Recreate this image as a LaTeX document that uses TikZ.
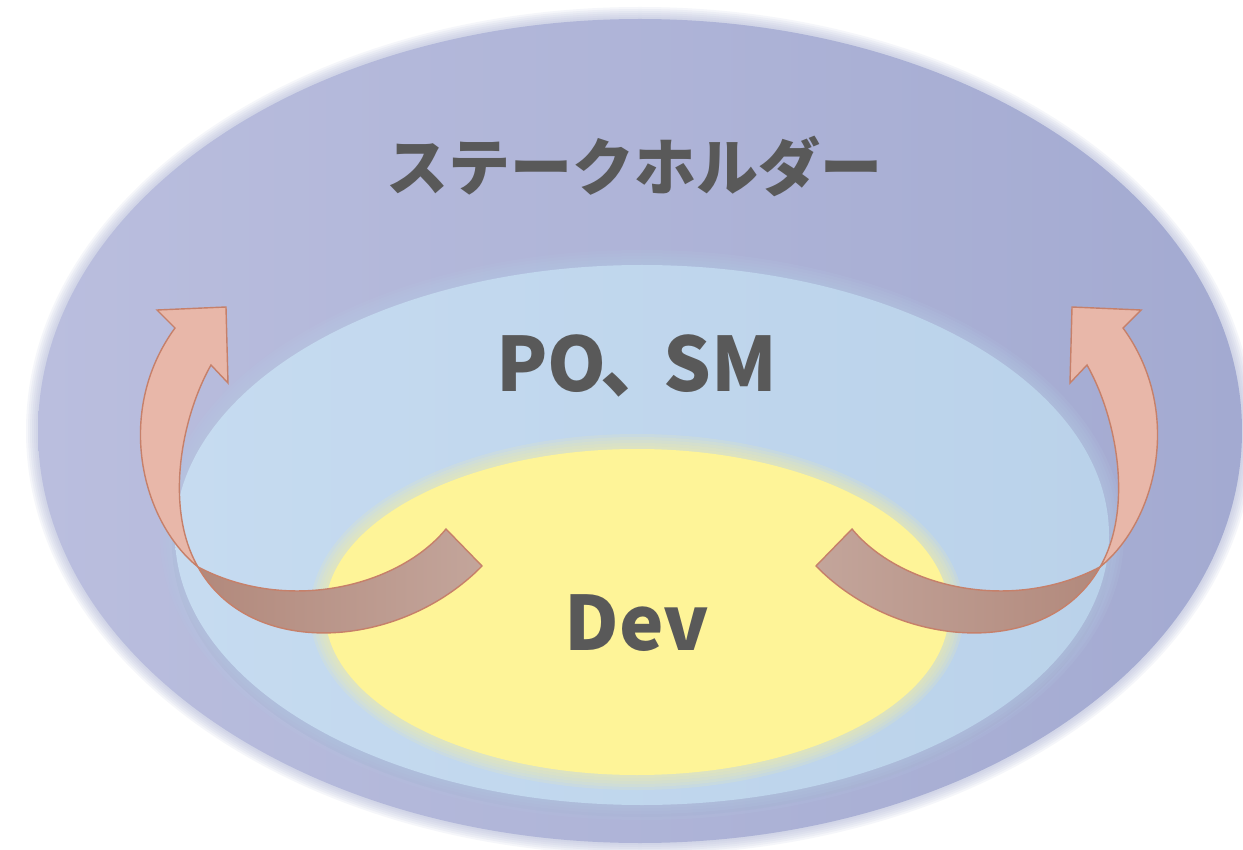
\documentclass[tikz,border=0pt]{standalone}
\usepackage{fontspec}
\usepackage{xcolor}
\usepackage{tikz}
\usetikzlibrary{positioning}
\newfontfamily\jpfont{Noto Sans CJK JP}
\definecolor{SHOuterLight}{RGB}{186, 190, 222}
\definecolor{SHOuterDark}{RGB}{163, 170, 209}
\definecolor{SHMiddleLight}{RGB}{198, 219, 240}
\definecolor{SHMiddle}{RGB}{186, 210, 234}
\definecolor{SHInner}{RGB}{254, 244, 152}
\definecolor{SHText}{RGB}{89, 89, 89}
\definecolor{SHArrowPink}{RGB}{232, 183, 169}
\definecolor{SHArrowDark}{RGB}{178, 137, 124}
\definecolor{SHArrowTail}{RGB}{195, 165, 155}
\definecolor{SHArrowLine}{RGB}{198, 128, 106}

% one curved arrow (left one, pixel coordinates); #1 left, #2 right colour of the lower band
\newcommand{\shArrow}[2]{%
  \path[band, left color=#1, right color=#2]
    (446,529) .. controls (400,585) and (290,615) .. (198,567)
    .. controls (250,660) and (400,650) .. (482,566) -- cycle;
  \path[band, fill=SHArrowPink]
    (198,567) .. controls (140,520) and (115,410) .. (175,328)
    -- (157,310) -- (226,307) -- (228,383) -- (211,365)
    .. controls (180,420) and (165,510) .. (198,567) -- cycle;
}

\begin{document}
\begin{tikzpicture}[x=0.5pt,y=-0.5pt,
  band/.style={draw=SHArrowLine, line width=0.7pt, line join=miter},
  label/.style={text=SHText, font=\jpfont\bfseries, inner sep=0pt}]
  \path[use as bounding box] (0,0) rectangle (1243,850);
  \clip (0,0) rectangle (1243,850);
  \fill[white] (0,0) rectangle (1243,850);

  % Outer: stakeholders
  \foreach \k in {1,...,6}
    \fill[SHOuterDark, opacity=0.1] (640,431) ellipse [x radius=602+2*\k, y radius=412+2*\k];
  \shade[left color=SHOuterLight, right color=SHOuterDark] (640,431) ellipse [x radius=602, y radius=412];
  % shadow below the middle ring
  \fill[SHOuterDark!85!black, opacity=0.12] (642,545) ellipse [x radius=470, y radius=272];

  % Middle: PO, SM
  \foreach \k in {1,...,5}
    \fill[SHMiddle!80!SHOuterDark, opacity=0.14] (642,535) ellipse [x radius=467+3*\k, y radius=270+3*\k];
  \shade[left color=SHMiddleLight, right color=SHMiddle] (642,535) ellipse [x radius=467, y radius=270];

  % Inner: Dev
  \foreach \k in {1,...,5}
    \fill[SHInner!85!SHMiddle, opacity=0.16] (637,612) ellipse [x radius=312+3*\k, y radius=163+3*\k];
  \fill[SHInner] (637,612) ellipse [x radius=312, y radius=163];

  % Arrows
  \shArrow{SHArrowDark}{SHArrowTail}
  \begin{scope}[xshift=649pt, xscale=-1]
    \shArrow{SHArrowTail}{SHArrowDark}
  \end{scope}

  % Labels
  \node[label] (stakeholder) at (634,166) {\fontsize{31}{36}\selectfont ステークホルダー};
  \node[label] (posm) at (637,366) {\fontsize{37.5}{42}\selectfont PO\kern-3pt、\kern-6pt SM};
  \node[label] (dev) at (637,623) {\fontsize{37.5}{42}\selectfont Dev};
\end{tikzpicture}
\end{document}
